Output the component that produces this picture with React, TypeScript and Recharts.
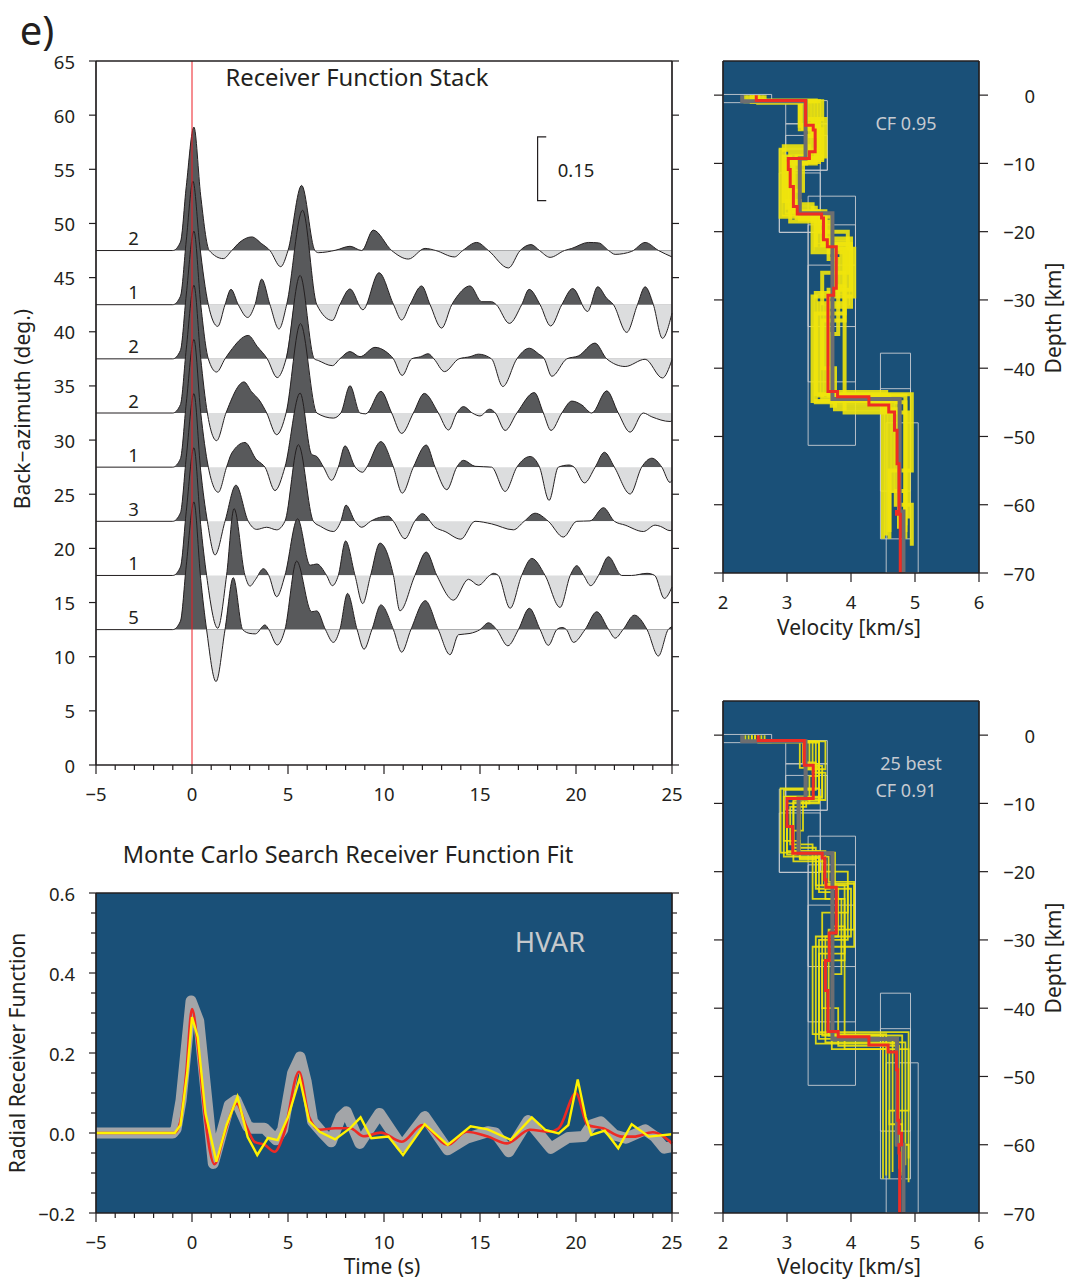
import {
  ComposedChart,
  Area,
  Line,
  XAxis,
  YAxis,
  Scatter,
  ReferenceArea,
  CartesianGrid,
} from "recharts";

// ---------- receiver function stack ----------
const stackBaz = [47.5, 42.5, 37.5, 32.5, 27.5, 22.5, 17.5, 12.5];
const stackCounts = ["2", "1", "2", "2", "1", "3", "1", "5"];
const timeTicks = [-5, -4, -3, -2, -1, 0, 1, 2, 3, 4, 5, 6, 7, 8, 9, 10, 11, 12, 13, 14, 15, 16, 17, 18, 19, 20, 21, 22, 23, 24, 25];
const bazTicks = [0, 5, 10, 15, 20, 25, 30, 35, 40, 45, 50, 55, 60, 65];
// amplitude -> back-azimuth units (0.15 bar spans ~5.9 deg)
const AMP_SCALE = 39.3;

// [time s, amplitude]
const rf475: [number, number][] = [
  [-5, 0], [-1.0, 0], [-0.6, 0.02], [-0.3, 0.15], [0.1, 0.29], [0.45, 0.13], [0.9, 0], [1.63, -0.019], [2.07, 0],
  [2.5, 0.02], [3.11, 0.032], [3.63, 0.016], [4.06, 0], [4.62, -0.038], [5.0, 0], [5.71, 0.153], [6.4, 0],
  [6.58, -0.005], [7.5, 0.001], [8.23, 0.01], [8.84, 0.0], [9.44, 0.048], [10.4, 0], [11.27, -0.02], [12.14, 0.005],
  [12.7, 0], [13.67, -0.015], [14.1, 0], [14.83, 0.019], [15.44, 0], [16.48, -0.041], [17.09, 0], [17.66, 0.014],
  [18.1, 0], [18.65, -0.016], [19.4, 0], [19.78, 0.005], [20.65, 0.019], [21.17, 0.018], [21.7, 0], [22.04, -0.009],
  [22.9, -0.002], [23.6, 0.019], [24.3, 0], [25, -0.015],
];
const rf425: [number, number][] = [
  [-5, 0], [-1.0, 0], [-0.6, 0.02], [-0.3, 0.15], [0.05, 0.29], [0.4, 0.14], [0.85, 0], [1.34, -0.051], [1.72, 0],
  [2.03, 0.036], [2.41, 0], [2.9, -0.03], [3.28, 0], [3.63, 0.06], [4.06, 0], [4.53, -0.057], [4.93, 0], [5.76, 0.222],
  [6.5, 0], [7.31, -0.037], [7.7, 0], [8.23, 0.037], [8.9, -0.012], [9.74, 0.075], [10.5, 0], [10.92, -0.036],
  [11.35, 0], [11.96, 0.044], [12.4, 0], [13.0, -0.055], [13.53, 0], [13.8, 0.019], [14.48, 0.044], [15.09, 0.007],
  [15.6, 0.007], [15.85, 0], [16.53, -0.044], [17.17, 0], [17.56, 0.036], [18.13, 0], [18.68, -0.05], [19.26, 0],
  [19.83, 0.038], [20.6, -0.016], [21.13, 0.042], [21.6, 0.015], [21.95, 0], [22.64, -0.065], [23.2, 0], [23.6, 0.042],
  [24.03, 0], [24.5, -0.079], [25, -0.02],
];
const rf375: [number, number][] = [
  [-5, 0], [-1.0, 0], [-0.6, 0.02], [-0.3, 0.15], [0.1, 0.3], [0.45, 0.13], [0.85, 0], [1.28, -0.031], [1.72, 0],
  [1.98, 0.017], [2.93, 0.055], [3.4, 0.029], [3.92, 0], [4.44, -0.044], [4.9, 0], [5.63, 0.196], [6.37, 0],
  [6.58, -0.004], [7.31, -0.016], [7.7, 0], [8.23, 0.017], [8.75, 0.005], [9.53, 0.027], [10.1, 0.017], [10.49, 0],
  [10.95, -0.039], [11.44, 0], [11.9, 0.005], [12.3, 0.012], [12.6, 0], [13.15, -0.03], [13.9, 0], [14.48, 0.005],
  [14.92, 0.011], [15.6, 0], [16.19, -0.065], [16.92, 0], [17.57, 0.025], [18.04, 0.012], [18.35, 0], [18.74, -0.041],
  [19.52, 0], [20.13, 0.007], [20.99, 0.037], [21.6, 0], [22.56, -0.018], [23.6, -0.001], [24.5, -0.045], [25, -0.002],
];
const rf325: [number, number][] = [
  [-5, 0], [-1.0, 0], [-0.6, 0.02], [-0.3, 0.15], [0.1, 0.3], [0.45, 0.13], [0.8, 0], [1.28, -0.065], [1.77, 0],
  [2.71, 0.073], [3.1, 0.05], [3.54, 0.028], [3.89, 0], [4.41, -0.051], [4.9, 0], [5.65, 0.21], [6.5, 0],
  [7.36, -0.012], [7.75, 0], [8.23, 0.064], [8.75, 0], [9.05, -0.002], [9.84, 0.051], [10.4, 0], [10.92, -0.048],
  [11.53, 0], [12.1, 0.046], [12.83, 0], [13.36, -0.04], [13.79, 0], [14.14, 0.015], [14.6, 0], [15.0, -0.007],
  [15.5, 0.009], [15.8, 0], [16.31, -0.041], [16.92, 0], [17.83, 0.048], [18.3, 0], [18.7, -0.041], [19.26, 0],
  [19.78, 0.028], [20.3, 0.019], [20.82, 0], [21.6, 0.052], [22.2, 0], [22.82, -0.045], [23.5, 0], [23.95, -0.009],
  [24.9, -0.02], [25, -0.018],
];
const rf275: [number, number][] = [
  [-5, 0], [-1.0, 0], [-0.6, 0.02], [-0.3, 0.15], [0.1, 0.3], [0.45, 0.13], [0.85, 0], [1.37, -0.059], [1.8, 0],
  [2.07, 0.033], [2.76, 0.058], [3.37, 0.017], [3.63, 0.008], [3.8, 0], [4.32, -0.055], [4.84, 0], [5.63, 0.174],
  [6.23, 0.03], [6.5, 0.025], [6.85, 0], [7.27, -0.031], [7.62, 0], [7.97, 0.05], [8.5, 0], [8.89, -0.012], [9.1, 0],
  [9.84, 0.06], [10.49, 0], [10.95, -0.061], [11.53, 0], [12.2, 0.052], [12.66, 0], [13.27, -0.053], [13.79, 0],
  [14.14, 0.016], [14.74, 0.002], [15.6, 0], [16.31, -0.057], [16.92, 0], [17.61, 0.025], [18.1, 0], [18.6, -0.078],
  [19.08, 0], [19.64, 0.005], [19.9, 0], [20.44, -0.037], [21.0, 0], [21.48, 0.035], [22.0, 0], [22.82, -0.063],
  [23.42, 0], [23.95, 0.021], [24.47, 0], [24.9, -0.036], [25, -0.03],
];
const rf225: [number, number][] = [
  [-5, 0], [-1.0, 0], [-0.6, 0.02], [-0.3, 0.15], [0.1, 0.3], [0.45, 0.12], [0.8, 0], [1.2, -0.079], [1.72, 0],
  [2.29, 0.085], [2.93, 0], [3.37, -0.019], [3.89, -0.014], [4.41, -0.02], [4.84, 0], [5.54, 0.18], [6.32, 0],
  [6.7, -0.012], [7.36, -0.024], [7.75, 0], [8.02, 0.038], [8.49, 0], [8.84, -0.014], [9.3, 0], [9.62, 0.007],
  [10.23, 0.012], [10.49, 0], [11.09, -0.041], [11.6, 0], [12.0, 0.018], [12.66, -0.014], [13.18, -0.024],
  [14.0, -0.042], [14.74, 0], [15.6, -0.006], [16.74, -0.02], [17.3, 0], [17.87, 0.019], [18.56, 0], [19.34, -0.037],
  [20.04, 0], [20.73, 0.001], [21.43, 0.032], [22.0, 0], [22.56, -0.009], [23.51, -0.024], [24.12, -0.009],
  [24.4, -0.012], [24.9, -0.022], [25, -0.02],
];
const rf175: [number, number][] = [
  [-5, 0], [-1.0, 0], [-0.6, 0.02], [-0.3, 0.15], [0.1, 0.3], [0.45, 0.12], [0.76, 0], [1.34, -0.124], [1.8, 0],
  [2.19, 0.157], [2.76, 0], [3.02, -0.025], [3.3, -0.01], [3.72, 0.016], [4.0, 0], [4.41, -0.05], [4.84, 0],
  [5.5, 0.133], [6.15, 0.024], [6.5, 0.027], [7.01, 0], [7.31, -0.024], [7.62, 0], [8.0, 0.081], [8.49, 0],
  [8.89, -0.066], [9.3, 0], [9.79, 0.076], [10.49, 0], [10.83, -0.083], [11.61, 0], [12.2, 0.055], [12.75, 0],
  [13.62, -0.058], [14.4, -0.009], [14.92, -0.023], [15.5, 0], [15.7, 0.005], [15.95, 0], [16.57, -0.077],
  [17.17, 0], [17.7, 0.04], [18.39, 0], [19.17, -0.075], [19.7, 0], [20.04, 0.023], [20.4, 0], [20.77, -0.024],
  [21.17, 0], [21.69, 0.044], [22.38, 0], [22.9, 0.0], [23.7, 0.005], [24.1, 0], [24.6, -0.054], [25, -0.027],
];
const rf125: [number, number][] = [
  [-5, 0], [-1.0, 0], [-0.6, 0.02], [-0.3, 0.15], [0.1, 0.3], [0.45, 0.12], [0.76, 0], [1.25, -0.122], [1.72, 0],
  [2.15, 0.122], [2.64, 0], [3.02, -0.009], [3.3, -0.01], [3.8, 0.011], [4.0, 0], [4.44, -0.036], [4.84, 0],
  [5.45, 0.161], [6.23, 0.042], [6.5, 0.044], [6.95, 0], [7.36, -0.03], [7.7, 0], [8.1, 0.085], [8.6, 0],
  [8.96, -0.046], [9.37, 0], [9.84, 0.058], [10.49, 0], [10.92, -0.053], [11.4, 0], [12.15, 0.068], [12.83, 0],
  [13.44, -0.059], [13.88, -0.012], [14.48, -0.009], [15.0, 0], [15.44, 0.016], [15.87, 0], [16.45, -0.038],
  [17.0, 0], [17.57, 0.05], [18.13, 0], [18.56, -0.037], [19.0, 0], [19.26, 0.005], [19.5, 0], [19.87, -0.03],
  [20.47, 0], [21.08, 0.042], [21.7, 0], [22.04, -0.02], [22.45, 0], [23.04, 0.034], [23.7, 0], [24.29, -0.062],
  [24.8, 0], [25, 0.007],
];
const stackTraces = [rf475, rf425, rf375, rf325, rf275, rf225, rf175, rf125];

// ---------- Monte Carlo fit ----------
const fitTicksY = [-0.2, -0.15, -0.1, -0.05, 0, 0.05, 0.1, 0.15, 0.2, 0.25, 0.3, 0.35, 0.4, 0.45, 0.5, 0.55, 0.6];
const fitObserved: [number, number][] = [
  [-5, 0], [-1.0, 0], [-0.83, 0.01], [-0.57, 0.082], [-0.05, 0.33], [0.35, 0.28], [1.11, -0.076], [1.94, 0.07],
  [2.29, 0.082], [2.9, 0.016], [3.16, 0.012], [3.77, 0.012], [4.38, -0.017], [4.72, 0.008], [5.24, 0.15],
  [5.63, 0.19], [5.94, 0.13], [6.28, 0.029], [6.8, 0.0], [7.25, -0.022], [7.75, 0.04], [8.04, 0.053], [8.74, -0.026],
  [9.77, 0.049], [10.93, -0.034], [12.12, 0.041], [13.32, -0.042], [14.3, -0.013], [15.4, 0.003], [15.8, 0.0],
  [16.5, -0.047], [17.5, 0.031], [18.69, -0.038], [19.6, -0.011], [20.4, -0.009], [20.8, 0.02], [21.3, 0.028],
  [22.0, -0.005], [22.6, -0.013], [23.6, 0.008], [24.1, -0.009], [24.6, -0.038], [25, -0.034],
];
const fitBest: [number, number][] = [
  [-5, 0], [-0.9, 0], [-0.6, 0.03], [-0.3, 0.15], [0.0, 0.31], [0.3, 0.22], [0.7, 0.03], [1.17, -0.078], [1.7, 0.0],
  [2.33, 0.073], [2.8, 0.02], [3.26, -0.022], [3.8, -0.03], [4.3, -0.047], [4.8, 0.0], [5.57, 0.153], [6.1, 0.04],
  [6.65, 0.008], [7.45, 0.012], [8.24, 0.012], [8.94, -0.008], [9.83, 0.001], [10.93, -0.022], [12.0, 0.02],
  [13.32, -0.03], [14.3, 0.003], [15.4, -0.009], [16.4, -0.026], [17.6, 0.008], [18.6, 0.003], [19.1, 0.012],
  [20.0, 0.099], [20.6, 0.02], [21.4, 0.012], [22.4, -0.009], [23.0, -0.009], [24.0, 0.002], [25, -0.026],
];
const fitMean: [number, number][] = [
  [-5, 0], [-0.9, 0], [-0.6, 0.02], [-0.25, 0.15], [0.0, 0.29], [0.3, 0.24], [0.7, 0.05], [1.27, -0.072], [1.8, 0.02],
  [2.37, 0.091], [2.9, -0.01], [3.4, -0.055], [3.96, -0.012], [4.46, -0.018], [5.0, 0.04], [5.61, 0.137],
  [6.1, 0.03], [6.65, 0.003], [7.45, -0.016], [8.24, 0.012], [8.78, 0.039], [9.34, -0.013], [10.23, -0.009],
  [10.99, -0.055], [12.12, 0.022], [13.32, -0.03], [14.51, 0.017], [15.4, 0.009], [16.6, -0.017], [17.7, 0.039],
  [18.4, 0.008], [19.1, -0.001], [19.6, 0.02], [20.09, 0.134], [20.5, 0.04], [20.8, -0.005], [21.5, 0.006],
  [22.2, -0.038], [22.9, 0.022], [23.8, -0.009], [25, -0.003],
];

// ---------- velocity models: [velocity km/s, layer bottom depth km] ----------
const velTicks = [2, 3, 4, 5, 6];
const depthTicks = [-70, -60, -50, -40, -30, -20, -10, 0];
// search boxes [vMin, vMax, zTop, zBottom]
const searchBoxes = [
  [2.0, 2.76, 0.1, -1.1], [2.98, 3.63, -0.8, -4.2], [2.98, 3.63, -4.2, -11.0], [2.98, 3.63, -5.9, -11.0],
  [2.88, 3.52, -7.9, -20.1], [2.88, 3.52, -11.4, -20.1], [3.33, 4.07, -14.8, -51.3], [3.33, 4.07, -19.0, -42.0],
  [3.33, 4.07, -24.9, -33.9], [4.46, 4.93, -37.8, -65.0], [4.46, 4.93, -43.0, -58.0], [4.55, 5.05, -48.0, -70.0],
];

const bestTop = [
  [2.52, -0.8], [3.29, -4.4], [3.41, -5.1], [3.44, -8.3], [3.35, -9.3], [3.02, -10.9], [3.05, -13.4], [3.1, -16.3],
  [3.16, -17.4], [3.54, -18.0], [3.57, -21.2], [3.63, -22.2], [3.77, -28.3], [3.73, -29.3], [3.64, -43.4],
  [3.79, -44.2], [4.28, -45.4], [4.59, -46.4], [4.68, -49.1], [4.72, -54.0], [4.75, -61.0], [4.71, -61.4], [4.77, -70],
];
const meanTop = [[2.3, -0.9], [3.29, -9.3], [3.2, -17.3], [3.71, -44.5], [4.76, -61.0], [4.82, -70]];
const modelsTop = [
  [[2.45, -0.9], [3.35, -4.0], [3.5, -8.5], [3.05, -17.0], [3.5, -21.5], [3.95, -30.5], [3.5, -44.0], [4.6, -64.0]],
  [[2.6, -1.0], [3.2, -5.0], [3.55, -9.5], [3.0, -16.5], [3.45, -22.5], [3.85, -29.0], [3.45, -45.0], [4.85, -63.0]],
  [[2.4, -0.8], [3.45, -4.5], [3.4, -7.5], [2.95, -17.5], [3.6, -21.0], [4.0, -31.0], [3.6, -43.5], [4.55, -64.5]],
  [[2.55, -1.1], [3.3, -3.5], [3.6, -9.0], [3.15, -18.0], [3.55, -22.0], [3.75, -28.0], [3.9, -46.5], [4.9, -62.0]],
  [[2.5, -0.9], [3.5, -6.0], [3.3, -10.0], [3.1, -16.0], [3.4, -23.0], [3.9, -33.0], [3.55, -44.5], [4.5, -65.0]],
  [[2.65, -1.0], [3.25, -4.8], [3.5, -8.0], [2.9, -17.8], [3.7, -22.5], [4.05, -29.5], [3.4, -44.8], [4.7, -60.0], [4.95, -66.0]],
  [[2.35, -0.9], [3.4, -5.5], [3.55, -9.2], [3.25, -14.0], [3.05, -18.5], [3.65, -24.0], [3.8, -35.0], [3.7, -45.5], [4.65, -58.0], [4.85, -65.0]],
  [[2.5, -1.0], [3.3, -4.2], [3.45, -10.0], [3.0, -17.2], [3.5, -20.0], [3.95, -26.0], [3.55, -40.0], [3.75, -46.0], [4.75, -63.5]],
  [[2.55, -0.9], [3.55, -5.0], [3.35, -9.0], [2.95, -15.5], [3.2, -18.2], [3.45, -22.0], [3.9, -32.0], [3.45, -43.8], [4.95, -55.0], [4.6, -65.0]],
  [[2.45, -1.0], [3.2, -4.5], [3.5, -9.8], [3.1, -17.0], [3.6, -21.8], [4.0, -28.5], [3.65, -44.0], [4.85, -64.0]],
];

const bestBottom = [
  [2.55, -0.8], [3.27, -4.4], [3.41, -9.3], [3.0, -13.4], [3.09, -17.3], [3.55, -18.0], [3.59, -21.2], [3.61, -22.3],
  [3.77, -29.0], [3.66, -33.0], [3.6, -37.4], [3.64, -43.4], [3.8, -44.2], [4.28, -45.4], [4.58, -46.4],
  [4.71, -49.0], [4.73, -56.4], [4.75, -58.3], [4.79, -60.0], [4.75, -61.2], [4.76, -70],
];
const meanBottom = [[2.3, -0.9], [3.29, -9.3], [3.18, -17.3], [3.71, -44.5], [4.72, -60.0], [4.82, -70]];
const modelsBottom = [
  [[2.45, -0.9], [3.3, -4.5], [3.55, -9.0], [3.0, -17.5], [3.55, -22.0], [3.95, -30.0], [3.5, -44.5], [4.65, -64.0]],
  [[2.6, -1.0], [3.4, -5.5], [3.6, -9.5], [3.1, -16.5], [3.45, -22.5], [3.8, -29.5], [3.6, -45.0], [4.85, -63.0]],
  [[2.4, -0.8], [3.25, -4.0], [3.45, -8.0], [2.95, -17.8], [3.65, -21.5], [4.05, -31.0], [3.4, -43.8], [4.55, -64.5]],
  [[2.55, -1.1], [3.5, -6.0], [3.35, -10.0], [3.2, -18.0], [3.5, -23.0], [3.7, -28.0], [3.9, -46.0], [4.9, -62.0]],
  [[2.5, -0.9], [3.6, -5.0], [3.3, -10.5], [3.05, -16.0], [3.4, -24.0], [3.9, -33.0], [3.55, -44.0], [4.5, -65.0]],
  [[2.65, -1.0], [3.2, -4.8], [3.5, -7.8], [2.9, -17.2], [3.75, -22.5], [4.0, -29.5], [3.45, -45.2], [4.7, -60.0], [4.9, -65.5]],
  [[2.35, -0.9], [3.45, -5.5], [3.55, -9.2], [3.25, -14.0], [3.1, -18.5], [3.6, -24.0], [3.85, -35.0], [3.7, -46.0], [4.6, -57.0], [4.8, -64.5]],
  [[2.5, -1.0], [3.35, -4.2], [3.5, -10.0], [3.0, -17.0], [3.5, -20.0], [3.95, -26.0], [3.55, -40.0], [3.8, -45.5], [4.75, -63.5]],
  [[2.55, -0.9], [3.5, -5.0], [3.3, -9.0], [2.95, -15.5], [3.2, -18.2], [3.45, -22.0], [3.9, -32.0], [3.5, -43.5], [4.9, -55.0], [4.6, -65.0]],
  [[2.45, -1.0], [3.3, -4.5], [3.5, -9.8], [3.1, -17.0], [3.6, -21.8], [4.05, -28.5], [3.65, -44.0], [4.8, -64.0]],
];

const INK = "#231f20";
const BLUE = "#1a5078";
const FONT = "'Noto Sans', 'Open Sans', sans-serif";

const minus = (s: string) => s.replace("-", "\u2212");

// custom tick: draws its own tick mark (major / minor) and optional label
function makeTick(
  side: "top" | "bottom" | "left" | "right",
  majorStep: number,
  majorLen: number,
  minorLen: number,
  gap: number,
  fmt?: (v: number) => string
) {
  return function Tick(props: any) {
    const { x, y, payload } = props;
    const v = Number(payload.value);
    const q = v / majorStep;
    const major = Math.abs(q - Math.round(q)) < 1e-6;
    const len = major ? majorLen : minorLen;
    let x2 = x;
    let y2 = y;
    if (side === "bottom") y2 = y + len;
    if (side === "top") y2 = y - len;
    if (side === "left") x2 = x - len;
    if (side === "right") x2 = x + len;
    let label = null;
    if (fmt && major) {
      const txt = fmt(v);
      const common = { fill: INK, fontSize: 18.5, fontFamily: FONT, dominantBaseline: "central" as const };
      if (side === "bottom")
        label = <text x={x} y={y + gap} textAnchor="middle" {...common}>{txt}</text>;
      else if (side === "left")
        label = <text x={x - gap} y={y} textAnchor="end" {...common}>{txt}</text>;
      else if (side === "right")
        label = <text x={x + gap} y={y} textAnchor="end" {...common}>{txt}</text>;
    }
    return (
      <g>
        <line x1={x} y1={y} x2={x2} y2={y2} stroke={INK} strokeWidth={1.2} />
        {label}
      </g>
    );
  };
}

const fmtInt = (v: number) => minus(String(v));
const fmtOne = (v: number) => minus(v.toFixed(1));

const axisCommon = {
  tickLine: false,
  tickSize: 0,
  tickMargin: 0,
  interval: 0 as const,
  axisLine: { stroke: INK, strokeWidth: 1.7 },
};

function stepProfile(layers: number[][]) {
  const pts: { v: number; z: number }[] = [];
  let top = 0;
  for (const [v, bottom] of layers) {
    pts.push({ v, z: top }, { v, z: bottom });
    top = bottom;
  }
  return pts;
}

function Txt({ x, y, size = 20, color = INK, children }: any) {
  return (
    <div
      style={{
        position: "absolute",
        left: x,
        top: y,
        transform: "translate(-50%, -50%)",
        fontSize: size,
        color,
        fontFamily: FONT,
        whiteSpace: "nowrap",
        lineHeight: 1,
      }}
    >
      {children}
    </div>
  );
}

const Rot = ({ children }: any) => (
  <span style={{ display: "inline-block", transform: "rotate(-90deg)" }}>{children}</span>
);

function StackChart() {
  const labelPts = stackBaz.map((b, i) => ({ t: -3.05, y: b + 1.2, label: stackCounts[i] }));
  return (
    <ComposedChart width={700} height={810} margin={{ top: 41, right: 8, bottom: 5, left: 0 }}>
      <defs>
        {stackTraces.map((tr, i) => {
          const amps = tr.map((p) => p[1]);
          const hi = Math.max(0, ...amps);
          const lo = Math.min(0, ...amps);
          const f = hi / (hi - lo);
          return (
            <linearGradient key={i} id={`rfFill${i}`} x1="0" y1="0" x2="0" y2="1">
              <stop offset={f} stopColor="#58595b" />
              <stop offset={f} stopColor="#dcddde" />
            </linearGradient>
          );
        })}
      </defs>
      <XAxis dataKey="t" type="number" domain={[-5, 25]} ticks={timeTicks} height={40}
        tick={makeTick("bottom", 5, 9, 5, 28, fmtInt)} {...axisCommon} />
      <XAxis xAxisId="top" orientation="top" type="number" domain={[-5, 25]} ticks={timeTicks} height={20}
        allowDataOverflow tick={makeTick("top", 5, 9, 5, 0)} {...axisCommon} />
      <YAxis dataKey="y" type="number" domain={[0, 65]} ticks={bazTicks} width={96}
        tick={makeTick("left", 5, 7, 7, 21, fmtInt)} {...axisCommon} />
      <YAxis yAxisId="right" orientation="right" type="number" domain={[0, 65]} ticks={bazTicks} width={20}
        allowDataOverflow tick={makeTick("right", 5, 7, 7, 0)} {...axisCommon} />
      {stackTraces.map((tr, i) => (
        <Area
          key={i}
          data={tr.map(([t, a]) => ({ t, y: stackBaz[i] + a * AMP_SCALE }))}
          dataKey="y"
          type="monotone"
          baseValue={stackBaz[i]}
          fill={`url(#rfFill${i})`}
          fillOpacity={1}
          stroke={INK}
          strokeWidth={1}
          dot={false}
          activeDot={false}
          isAnimationActive={false}
        />
      ))}
      <Line data={[{ t: 0, y: 0 }, { t: 0, y: 65 }]} dataKey="y" stroke="#ed1c24" strokeWidth={1}
        dot={false} activeDot={false} isAnimationActive={false} />
      <Line data={[{ t: 18.45, y: 58 }, { t: 18, y: 58 }, { t: 18, y: 58 - 0.15 * AMP_SCALE }, { t: 18.45, y: 58 - 0.15 * AMP_SCALE }]}
        dataKey="y" type="linear" stroke={INK} strokeWidth={1.2} dot={false} activeDot={false} isAnimationActive={false} />
      <Scatter data={labelPts} isAnimationActive={false}
        shape={(p: any) => (
          <text x={p.cx} y={p.cy} textAnchor="middle" dominantBaseline="central" fontSize={18.5} fontFamily={FONT} fill={INK}>
            {p.payload.label}
          </text>
        )} />
    </ComposedChart>
  );
}

function FitChart() {
  const toPts = (arr: [number, number][]) => arr.map(([t, y]) => ({ t, y }));
  return (
    <ComposedChart width={700} height={420} margin={{ top: 23, right: 8, bottom: 17, left: 0 }}>
      <CartesianGrid fill={BLUE} stroke="none" horizontal={false} vertical={false} />
      <XAxis dataKey="t" type="number" domain={[-5, 25]} ticks={timeTicks} height={40}
        tick={makeTick("bottom", 5, 9, 5, 28, fmtInt)} {...axisCommon} />
      <XAxis xAxisId="top" orientation="top" type="number" domain={[-5, 25]} ticks={timeTicks} height={20}
        allowDataOverflow tick={makeTick("top", 5, 9, 5, 0)} {...axisCommon} />
      <YAxis dataKey="y" type="number" domain={[-0.2, 0.6]} ticks={fitTicksY} width={96}
        tick={makeTick("left", 0.2, 7, 5, 21, fmtOne)} {...axisCommon} />
      <YAxis yAxisId="right" orientation="right" type="number" domain={[-0.2, 0.6]} ticks={fitTicksY} width={20}
        allowDataOverflow tick={makeTick("right", 0.2, 7, 5, 0)} {...axisCommon} />
      <Line data={toPts(fitObserved)} dataKey="y" type="linear" stroke="#a3a5a8" strokeWidth={11}
        strokeLinejoin="round" dot={false} activeDot={false} isAnimationActive={false} />
      <Line data={toPts(fitBest)} dataKey="y" type="monotone" stroke="#ee2a24" strokeWidth={2.6}
        dot={false} activeDot={false} isAnimationActive={false} />
      <Line data={toPts(fitMean)} dataKey="y" type="linear" stroke="#fff200" strokeWidth={2.4}
        dot={false} activeDot={false} isAnimationActive={false} />
    </ComposedChart>
  );
}

function VelocityChart({ models, width, best, mean }: any) {
  return (
    <ComposedChart width={380} height={640} margin={{ top: 21, right: 31, bottom: 47, left: 0 }}>
      <CartesianGrid fill={BLUE} stroke="none" horizontal={false} vertical={false} />
      <XAxis dataKey="v" type="number" domain={[2, 6]} ticks={velTicks} height={40}
        tick={makeTick("bottom", 1, 9, 9, 28, fmtInt)} {...axisCommon} />
      <XAxis xAxisId="top" orientation="top" type="number" domain={[2, 6]} ticks={velTicks} height={20}
        allowDataOverflow tick={makeTick("top", 1, 9, 9, 0)} {...axisCommon} />
      <YAxis dataKey="z" type="number" domain={[-70, 5]} ticks={depthTicks} width={23}
        tick={makeTick("left", 10, 9, 9, 0)} {...axisCommon} />
      <YAxis yAxisId="right" orientation="right" type="number" domain={[-70, 5]} ticks={depthTicks} width={70}
        allowDataOverflow tick={makeTick("right", 10, 9, 9, 56, fmtInt)} {...axisCommon} />
      {searchBoxes.map((b, i) => (
        <ReferenceArea key={`b${i}`} x1={b[0]} x2={b[1]} y1={b[2]} y2={b[3]} fill="none"
          stroke="#c8ccd1" strokeWidth={1} strokeOpacity={0.9} />
      ))}
      {models.map((m: number[][], i: number) => (
        <Line key={`m${i}`} data={stepProfile(m)} dataKey="z" type="linear" stroke="#efe40c" strokeOpacity={0.9}
          strokeWidth={width} dot={false} activeDot={false} isAnimationActive={false} />
      ))}
      <Line data={stepProfile(mean)} dataKey="z" type="linear" stroke="#6d6e71" strokeWidth={4}
        dot={false} activeDot={false} isAnimationActive={false} />
      <Line data={stepProfile(best)} dataKey="z" type="linear" stroke="#ee2d24" strokeWidth={3}
        dot={false} activeDot={false} isAnimationActive={false} />
    </ComposedChart>
  );
}

export default function App() {
  return (
    <div style={{ position: "absolute", left: 0, top: 0, width: 1068, height: 1279, background: "#fff", fontFamily: FONT }}>
      <div style={{ position: "absolute", left: 0, top: 0 }}>
        <StackChart />
      </div>
      <div style={{ position: "absolute", left: 0, top: 850 }}>
        <FitChart />
      </div>
      <div style={{ position: "absolute", left: 700, top: 20 }}>
        <VelocityChart models={modelsTop} width={4} best={bestTop} mean={meanTop} />
      </div>
      <div style={{ position: "absolute", left: 700, top: 660 }}>
        <VelocityChart models={modelsBottom} width={1.8} best={bestBottom} mean={meanBottom} />
      </div>

      <Txt x={37} y={30} size={40}>e)</Txt>
      <Txt x={357} y={78} size={23.8}>Receiver Function Stack</Txt>
      <Txt x={576} y={170} size={18.5}>0.15</Txt>
      <Txt x={22} y={409} size={21}><Rot>Back{"\u2212"}azimuth (deg.)</Rot></Txt>
      <Txt x={348} y={855} size={23.5}>Monte Carlo Search Receiver Function Fit</Txt>
      <Txt x={550} y={942} size={27.5} color="#c6c9cc">HVAR</Txt>
      <Txt x={17} y={1053} size={21}><Rot>Radial Receiver Function</Rot></Txt>
      <Txt x={382} y={1266} size={21}>Time (s)</Txt>
      <Txt x={849} y={627} size={21}>Velocity [km/s]</Txt>
      <Txt x={849} y={1266} size={21}>Velocity [km/s]</Txt>
      <Txt x={1053} y={318} size={21}><Rot>Depth [km]</Rot></Txt>
      <Txt x={1053} y={958} size={21}><Rot>Depth [km]</Rot></Txt>
      <Txt x={906} y={123} size={18} color="#c6cad0">CF 0.95</Txt>
      <Txt x={911} y={763} size={18} color="#c6cad0">25 best</Txt>
      <Txt x={906} y={790} size={18} color="#c6cad0">CF 0.91</Txt>
    </div>
  );
}
